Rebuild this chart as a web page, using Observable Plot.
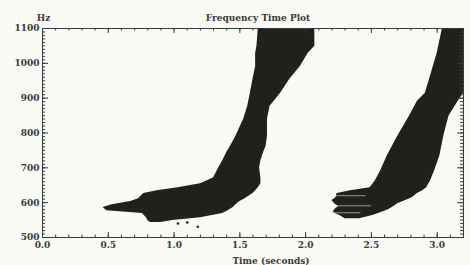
<!DOCTYPE html>
<html><head><meta charset="utf-8">
<script src="https://cdn.jsdelivr.net/npm/d3@7"></script>
<script src="https://cdn.jsdelivr.net/npm/@observablehq/plot@0.6"></script>
<style>
html,body{margin:0;padding:0;background:#f9f9f6;}
</style></head><body><div id="chart"></div>
<script>
const title = "Frequency Time Plot";
const xLabel = "Time (seconds)";
const yUnit = "Hz";
const xMajorTicks = [0, 0.5, 1.0, 1.5, 2.0, 2.5, 3.0];
const yMajorTicks = [500, 600, 700, 800, 900, 1000, 1100];
const xMinorTicks = d3.range(0, 3.2001, 0.1);
const yMinorTicks = d3.range(500, 1100.1, 10);

// first sweep: frequency rows with start/end time of the dark band
const sweep1Freq  = [543, 549, 557, 569, 577, 586, 594, 603, 611, 626, 634, 643, 654, 671, 700, 720, 743, 763, 791, 840, 877, 914, 954, 991, 1029, 1049, 1100];
const sweep1Start = [0.82,0.80,0.79,0.76,0.49,0.46,0.53,0.67,0.73,0.77,0.87,1.03,1.20,1.30,1.34,1.37,1.40,1.43,1.47,1.53,1.56,1.58,1.60,1.62,1.62,1.63,1.64];
const sweep1End   = [0.90,0.99,1.20,1.37,1.41,1.45,1.47,1.50,1.54,1.60,1.62,1.64,1.66,1.66,1.65,1.66,1.68,1.70,1.71,1.71,1.73,1.81,1.88,1.96,2.02,2.07,2.07];

// second sweep
const sweep2Freq  = [554, 563, 571, 580, 589, 597, 606, 614, 626, 634, 643, 663, 691, 734, 791, 849, 891, 914, 977, 1029, 1100];
const sweep2Start = [2.30,2.26,2.21,2.22,2.25,2.22,2.20,2.23,2.24,2.34,2.49,2.53,2.57,2.62,2.70,2.79,2.85,2.91,2.96,3.00,3.04];
const sweep2End   = [2.41,2.51,2.57,2.63,2.67,2.70,2.76,2.81,2.85,2.89,2.92,2.95,2.98,3.02,3.05,3.09,3.16,3.20,3.20,3.20,3.20];

// light streak gaps inside the second sweep's tail
const gapFreq  = [620, 591, 571];
const gapStart = [2.20, 2.20, 2.20];
const gapEnd   = [2.46, 2.50, 2.42];

// isolated specks below the first sweep
const speckTime = [1.03, 1.10, 1.18];
const speckFreq = [540, 543, 531];

const s1 = sweep1Freq.map((f, i) => ({f, t1: sweep1Start[i], t2: sweep1End[i]}));
const s2 = sweep2Freq.map((f, i) => ({f, t1: sweep2Start[i], t2: sweep2End[i]}));
const gaps = gapFreq.map((f, i) => ({f, t1: gapStart[i], t2: gapEnd[i]}));
const specks = speckTime.map((t, i) => ({t, f: speckFreq[i]}));

const ink = "#1f211c";
const axisInk = "#3a3a38";
const W = 470, H = 265, mL = 42, mR = 7, mT = 28, mB = 28;
const fw = W - mL - mR, fh = H - mT - mB;

const chart = Plot.plot({
  width: W, height: H,
  marginLeft: mL, marginRight: mR, marginTop: mT, marginBottom: mB,
  style: {background: "#f9f9f6", fontFamily: "DejaVu Serif", fontSize: "9px", fontWeight: "bold", color: axisInk},
  x: {domain: [0, 3.2]},
  y: {domain: [500, 1100]},
  marks: [
    Plot.areaX(s1, {y: "f", x1: "t1", x2: "t2", fill: ink, clip: true}),
    Plot.areaX(s2, {y: "f", x1: "t1", x2: "t2", fill: ink, clip: true}),
    Plot.ruleY(gaps, {y: "f", x1: "t1", x2: "t2", stroke: "#f9f9f6", strokeWidth: 1, strokeOpacity: 0.55}),
    Plot.dot(specks, {x: "t", y: "f", r: 1.3, fill: ink}),
    Plot.frame({stroke: axisInk, strokeWidth: 1}),
    // bottom & top ticks
    Plot.ruleX(xMinorTicks, {x: d => d, insetTop: fh - 2.5, stroke: axisInk}),
    Plot.ruleX(xMajorTicks, {x: d => d, insetTop: fh - 5, stroke: axisInk}),
    Plot.ruleX(xMinorTicks, {x: d => d, insetBottom: fh - 2.5, stroke: axisInk}),
    Plot.ruleX(xMajorTicks, {x: d => d, insetBottom: fh - 5, stroke: axisInk}),
    // left & right ticks
    Plot.ruleY(yMinorTicks, {y: d => d, insetRight: fw - 3, stroke: axisInk}),
    Plot.ruleY(yMajorTicks, {y: d => d, insetRight: fw - 6, stroke: axisInk}),
    Plot.ruleY(yMinorTicks, {y: d => d, insetLeft: fw - 3, stroke: axisInk}),
    Plot.ruleY(yMajorTicks, {y: d => d, insetLeft: fw - 6, stroke: axisInk}),
    Plot.axisX({ticks: xMajorTicks, tickSize: 0, tickPadding: 4, tickFormat: d3.format(".1f"), label: null, fill: axisInk}),
    Plot.axisY({ticks: yMajorTicks, tickSize: 0, tickPadding: 3, tickFormat: d => String(d), label: null, fill: axisInk}),
    Plot.text([title], {frameAnchor: "top", dy: -8, dx: 5, lineAnchor: "bottom", fill: axisInk, fontSize: 9}),
    Plot.text([yUnit], {frameAnchor: "top-left", dy: -8, dx: 1, lineAnchor: "bottom", textAnchor: "middle", fill: axisInk}),
    Plot.text([xLabel], {frameAnchor: "bottom", dy: 26, dx: 18, lineAnchor: "bottom", fill: axisInk})
  ]
});
document.getElementById("chart").appendChild(chart);
</script></body></html>
